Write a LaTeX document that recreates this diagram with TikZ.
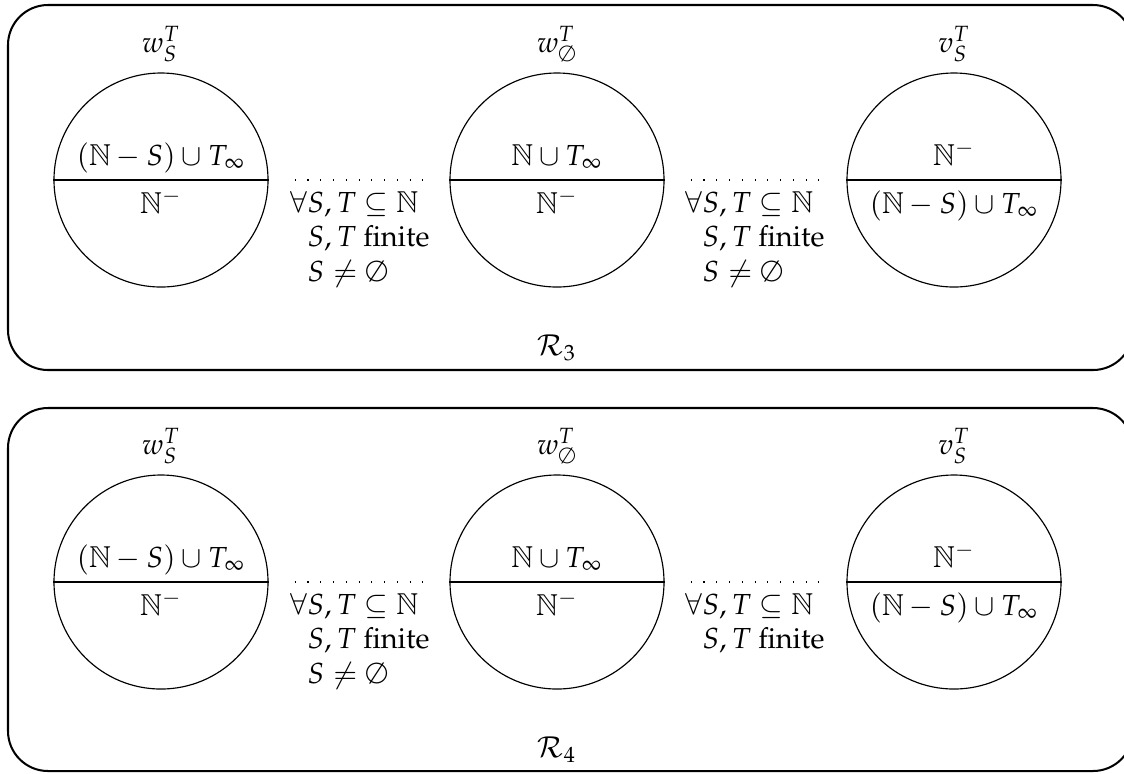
\documentclass[tikz,border=0pt]{standalone}
\usepackage[T1]{fontenc}
\usepackage[noBBpl]{mathpazo}
\usepackage{amssymb}
\begin{document}
\begin{tikzpicture}[x=0.3448pt,y=-0.3448pt,
  panel/.style={draw, line width=0.7pt, rounded corners=13.8pt},
  state/.style={draw, circle, minimum size=73.8pt, inner sep=0pt},
  halftext/.style={anchor=base, inner sep=0pt},
  stname/.style={anchor=base, inner sep=0pt},
  conn/.style={loosely dotted, shorten <=9pt, shorten >=5.8pt},
  cond/.style={anchor=base west, inner sep=0pt}]
\useasboundingbox (0,0) rectangle (1124,773);
% ---------- panel R3 ----------
\draw[panel] (8,5) rectangle (1133,370);
\node[state] (a1) at (161,180) {};
\node[state] (a2) at (557,180) {};
\node[state] (a3) at (954,180) {};
\draw (a1.west) -- (a1.east);
\draw (a2.west) -- (a2.east);
\draw (a3.west) -- (a3.east);
\node[halftext] (a1u) at (161,165) {$(\mathbb{N}-S)\cup T_\infty$};
\node[halftext] (a1l) at (161,213) {$\mathbb{N}^{-}$};
\node[halftext] (a2u) at (557,165) {$\mathbb{N}\cup T_\infty$};
\node[halftext] (a2l) at (557,213) {$\mathbb{N}^{-}$};
\node[halftext] (a3u) at (954,165) {$\mathbb{N}^{-}$};
\node[halftext] (a3l) at (954,213) {$(\mathbb{N}-S)\cup T_\infty$};
\node[stname] (a1n) at (161,52) {$w_S^T$};
\node[stname] (a2n) at (557,52) {$w_\emptyset^T$};
\node[stname] (a3n) at (954,52) {$v_S^T$};
\draw[conn] (a1.east) -- (a2.west);
\draw[conn] (a2.east) -- (a3.west);
\node[cond] (a12) at (307,212) {\begin{tabular}[t]{@{}l@{}}\llap{$\forall$}$S,T\subseteq\mathbb{N}$\\ $S,T$ finite\\ $S\neq\emptyset$\end{tabular}};
\node[cond] (a23) at (702,212) {\begin{tabular}[t]{@{}l@{}}\llap{$\forall$}$S,T\subseteq\mathbb{N}$\\ $S,T$ finite\\ $S\neq\emptyset$\end{tabular}};
\node[stname] (r3) at (557,355) {$\mathcal{R}_3$};
% ---------- panel R4 ----------
\draw[panel] (8,408) rectangle (1133,771);
\node[state] (b1) at (161,582) {};
\node[state] (b2) at (557,582) {};
\node[state] (b3) at (954,582) {};
\draw (b1.west) -- (b1.east);
\draw (b2.west) -- (b2.east);
\draw (b3.west) -- (b3.east);
\node[halftext] (b1u) at (161,567) {$(\mathbb{N}-S)\cup T_\infty$};
\node[halftext] (b1l) at (161,615) {$\mathbb{N}^{-}$};
\node[halftext] (b2u) at (557,567) {$\mathbb{N}\cup T_\infty$};
\node[halftext] (b2l) at (557,615) {$\mathbb{N}^{-}$};
\node[halftext] (b3u) at (954,567) {$\mathbb{N}^{-}$};
\node[halftext] (b3l) at (954,615) {$(\mathbb{N}-S)\cup T_\infty$};
\node[stname] (b1n) at (161,454) {$w_S^T$};
\node[stname] (b2n) at (557,454) {$w_\emptyset^T$};
\node[stname] (b3n) at (954,454) {$v_S^T$};
\draw[conn] (b1.east) -- (b2.west);
\draw[conn] (b2.east) -- (b3.west);
\node[cond] (b12) at (307,614) {\begin{tabular}[t]{@{}l@{}}\llap{$\forall$}$S,T\subseteq\mathbb{N}$\\ $S,T$ finite\\ $S\neq\emptyset$\end{tabular}};
\node[cond] (b23) at (702,614) {\begin{tabular}[t]{@{}l@{}}\llap{$\forall$}$S,T\subseteq\mathbb{N}$\\ $S,T$ finite\end{tabular}};
\node[stname] (r4) at (557,757) {$\mathcal{R}_4$};
\end{tikzpicture}
\end{document}
